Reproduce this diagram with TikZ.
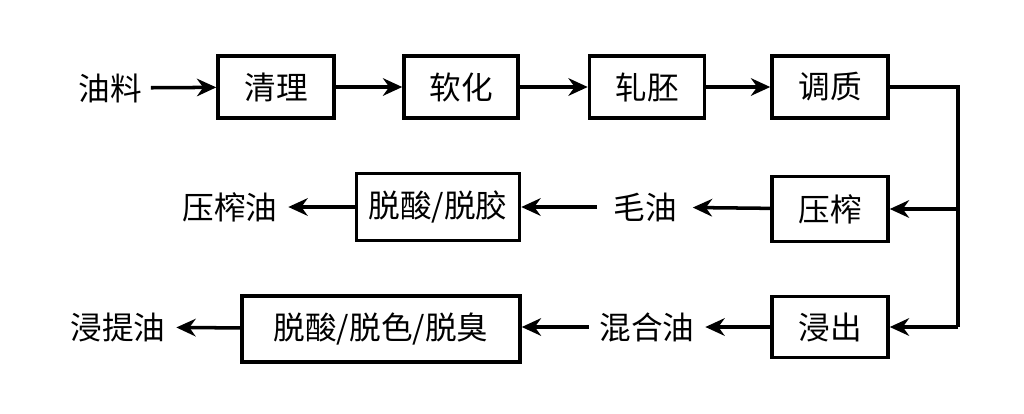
\documentclass[tikz,border=0pt]{standalone}
\usepackage{fontspec}
\setmainfont{Noto Sans CJK SC}
\usetikzlibrary{arrows.meta}
\tikzset{
    procBox/.style={rectangle, draw=black, line width=2pt, minimum height=1.24cm, font=\fontsize{18}{21}\selectfont},
    txt/.style={inner sep=2pt, font=\fontsize{18}{21}\selectfont},
    arrow/.style={-{Stealth[length=11pt,width=10pt]}, line width=2pt}
}
\begin{document}
\begin{tikzpicture}[x=0.02cm, y=-0.02cm]
    \useasboundingbox (0,0) rectangle (1024,413);
    % top row
    \node[txt, inner sep=5pt] (Oil) at (110,88) {油料};
    \node[procBox, minimum width=2.32cm] (Clean) at (276,87) {清理};
    \node[procBox, minimum width=2.28cm] (Soft) at (461,87) {软化};
    \node[procBox, minimum width=2.3cm] (Flake) at (647,87) {轧胚};
    \node[procBox, minimum width=2.32cm] (Cond) at (830,87) {调质};
    \draw[arrow] (Oil) -- (Clean);
    \draw[arrow] (Clean) -- (Soft);
    \draw[arrow] (Soft) -- (Flake);
    \draw[arrow] (Flake) -- (Cond);

    % press branch
    \node[procBox, minimum width=2.32cm, minimum height=1.3cm] (Press) at (830,209) {压榨};
    \node[txt, inner sep=9pt] (Crude) at (645,207) {毛油};
    \node[procBox, minimum width=3.26cm, minimum height=1.34cm] (Refine1) at (438,207) {脱酸/脱胶};
    \node[txt, inner sep=6pt] (PressOil) at (230,207) {压榨油};
    \draw[arrow] (Press) -- (Crude);
    \draw[arrow] (Crude) -- (Refine1);
    \draw[arrow] (Refine1) -- (PressOil);

    % extraction branch
    \node[procBox, minimum width=2.32cm, minimum height=1.22cm] (Extract) at (830,327) {浸出};
    \node[txt, inner sep=6pt] (Miscella) at (647,327) {混合油};
    \node[procBox, minimum width=5.56cm, minimum height=1.32cm] (Refine2) at (381,329) {脱酸/脱色/脱臭};
    \node[txt, inner sep=6pt] (ExtOil) at (118,327) {浸提油};
    \draw[arrow] (Extract) -- (Miscella);
    \draw[arrow] (Miscella) -- (Miscella -| Refine2.east);
    \draw[arrow] (Refine2) -- (ExtOil);

    % feed line
    \coordinate (Turn) at (958,87);
    \draw[line width=2pt] (Cond.east) -- (Turn) -- (Turn |- Extract);
    \draw[arrow] (Turn |- Press) -- (Press.east);
    \draw[arrow] (Turn |- Extract) -- (Extract.east);
\end{tikzpicture}
\end{document}
